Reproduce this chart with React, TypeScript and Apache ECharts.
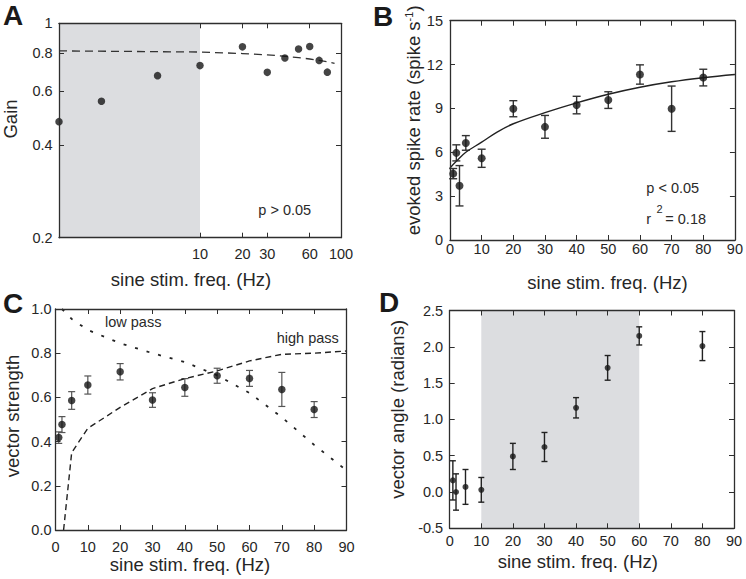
import React, { useEffect, useRef } from 'react';
import * as echarts from 'echarts';

// ---------- Panel A (log-log gain) ----------
const aFreq = [1, 2, 5, 10, 20, 30, 40, 50, 60, 70, 80];
const aGain = [0.478, 0.557, 0.675, 0.728, 0.838, 0.692, 0.771, 0.825, 0.84, 0.757, 0.693];
const aFitFreq = [1, 10, 20, 30, 40, 50, 60, 70, 80, 90];
const aFitGain = [0.813, 0.806, 0.797, 0.789, 0.781, 0.773, 0.765, 0.757, 0.749, 0.74];
const aXTicks = [10, 20, 30, 60];
const aXLabels = [10, 20, 30, 60, 100];
const aYTicks = [0.4, 0.6, 0.8];
const aYLabels = [0.2, 0.4, 0.6, 0.8, 1];
const aShade = [1, 10];

// ---------- Panel B (evoked spike rate) ----------
const bFreq = [1, 2, 3, 5, 10, 20, 30, 40, 50, 60, 70, 80];
const bRate = [4.54, 5.96, 3.71, 6.64, 5.59, 8.98, 7.74, 9.23, 9.57, 11.32, 8.98, 11.11];
const bErr = [0.35, 0.55, 1.38, 0.5, 0.62, 0.55, 0.78, 0.6, 0.57, 0.66, 1.55, 0.57];
const bFitFreq = [0, 2, 5, 10, 15, 20, 30, 40, 50, 60, 70, 80, 90];
const bFitRate = [4.93, 5.38, 6.0, 6.69, 7.4, 7.95, 8.71, 9.38, 9.97, 10.45, 10.82, 11.1, 11.32];

// ---------- Panel C (vector strength) ----------
const cFreq = [1, 2, 5, 10, 20, 30, 40, 50, 60, 70, 80];
const cVS = [0.418, 0.477, 0.586, 0.656, 0.716, 0.588, 0.645, 0.698, 0.686, 0.636, 0.545];
const cErr = [0.026, 0.036, 0.04, 0.041, 0.037, 0.033, 0.04, 0.034, 0.036, 0.077, 0.036];
const highPassFreq = [2.5, 5, 10, 20, 30, 40, 50, 60, 70, 80, 90];
const highPassVS = [0, 0.35, 0.46, 0.555, 0.64, 0.685, 0.72, 0.765, 0.795, 0.8, 0.81];
const lowPassFreq = [2, 5, 10, 20, 30, 40, 50, 60, 70, 80, 90];
const lowPassVS = [1.0, 0.955, 0.905, 0.845, 0.8, 0.76, 0.7, 0.62, 0.51, 0.385, 0.27];

// ---------- Panel D (vector angle) ----------
const dFreq = [1, 2, 5, 10, 20, 30, 40, 50, 60, 80];
const dAngle = [0.16, 0.0, 0.07, 0.03, 0.49, 0.62, 1.16, 1.71, 2.15, 2.01];
const dErr = [0.27, 0.25, 0.24, 0.17, 0.18, 0.2, 0.14, 0.17, 0.125, 0.2];
const dShade = [10, 60];

const FONT = '"Liberation Sans", Arial, Helvetica, sans-serif';
const TXT = '#262626';
const LINE = '#2e2e2e';
const DOT = '#161616';
const NAME_SIZE = 18.5;
const TICK_SIZE = 14.5;

const lg = (v: number) => Math.log10(v);

function axis(gridIndex: number, position: string, opts: any) {
  const main = position === 'bottom' || position === 'left';
  const tick: any = { show: true, inside: true, length: 5, lineStyle: { color: LINE, width: 1 } };
  if (opts.tickValues) tick.customValues = opts.tickValues;
  const label: any = main
    ? { show: true, color: TXT, fontSize: TICK_SIZE, fontFamily: FONT, margin: opts.margin ?? 6, ...(opts.label || {}) }
    : { show: false };
  const ax: any = {
    type: 'value',
    gridIndex,
    position,
    min: opts.min,
    max: opts.max,
    z: 10,
    axisLine: { show: true, onZero: false, lineStyle: { color: LINE, width: 1.3 } },
    axisTick: tick,
    axisLabel: label,
    splitLine: { show: false },
  };
  if (opts.interval !== undefined) ax.interval = opts.interval;
  if (main && opts.name) {
    ax.name = opts.name;
    ax.nameLocation = 'middle';
    ax.nameGap = opts.nameGap;
    ax.nameTextStyle = {
      fontSize: NAME_SIZE,
      color: TXT,
      fontFamily: FONT,
      padding: opts.namePad || [0, 0, 0, 0],
      ...(opts.nameRich ? { rich: opts.nameRich } : {}),
    };
  }
  return ax;
}

function errorBars(capHalf: number, color: string, width: number) {
  return (_params: any, api: any) => {
    const x = api.value(0);
    const lo = api.value(1);
    const hi = api.value(2);
    const a = api.coord([x, lo]);
    const b = api.coord([x, hi]);
    const style = { stroke: color, lineWidth: width, fill: null };
    return {
      type: 'group',
      children: [
        { type: 'line', shape: { x1: a[0], y1: a[1], x2: b[0], y2: b[1] }, style },
        { type: 'line', shape: { x1: a[0] - capHalf, y1: a[1], x2: a[0] + capHalf, y2: a[1] }, style },
        { type: 'line', shape: { x1: b[0] - capHalf, y1: b[1], x2: b[0] + capHalf, y2: b[1] }, style },
      ],
    };
  };
}

function buildOption() {
  const grid = [
    { left: 57.3, top: 23.3, width: 283.7, height: 214.4 },
    { left: 450, top: 20.7, width: 286.5, height: 219.3 },
    { left: 55.5, top: 309, width: 291, height: 221 },
    { left: 449.7, top: 310.5, width: 284.3, height: 217.8 },
  ];

  const freqAxis = { min: 0, max: 90, interval: 10 };
  const xName = 'sine stim. freq. (Hz)';

  const xAxis = [
    axis(0, 'bottom', {
      min: 0, max: 2,
      tickValues: aXTicks.map(lg),
      margin: 8.5,
      label: { customValues: aXLabels.map(lg), formatter: (v: number) => String(Math.round(Math.pow(10, v))) },
      name: xName, nameGap: 32.5, namePad: [0, 18, 0, 0],
    }),
    axis(0, 'top', { min: 0, max: 2, tickValues: aXTicks.map(lg) }),
    axis(1, 'bottom', { ...freqAxis, margin: 1.5, name: xName, nameGap: 32.5, namePad: [0, 0, 0, 30] }),
    axis(1, 'top', { ...freqAxis }),
    axis(2, 'bottom', { ...freqAxis, margin: 9.5, name: xName, nameGap: 23.5, namePad: [0, 22, 0, 0] }),
    axis(2, 'top', { ...freqAxis }),
    axis(3, 'bottom', { ...freqAxis, margin: 5.5, name: xName, nameGap: 23.2, namePad: [0, 28, 0, 0] }),
    axis(3, 'top', { ...freqAxis }),
  ];

  const yAxis = [
    axis(0, 'left', {
      min: lg(0.2), max: 0,
      tickValues: aYTicks.map(lg),
      margin: 6.3,
      label: {
        customValues: aYLabels.map(lg),
        formatter: (v: number) => {
          const x = Math.pow(10, v);
          return x > 0.99 ? '1' : x.toFixed(1);
        },
      },
      name: 'Gain', nameGap: 39, namePad: [0, 0, 0, 23],
    }),
    axis(0, 'right', { min: lg(0.2), max: 0, tickValues: aYTicks.map(lg) }),
    axis(1, 'left', {
      min: 0, max: 15, interval: 3, margin: 7,
      name: 'evoked spike rate (spike s{sup|-1})', nameGap: 23, namePad: [0, 0, 0, 20],
      nameRich: { sup: { fontSize: 11, fontFamily: FONT, color: TXT, verticalAlign: 'top', lineHeight: 12 } },
    }),
    axis(1, 'right', { min: 0, max: 15, interval: 3 }),
    axis(2, 'left', {
      min: 0, max: 1, interval: 0.2, margin: 4,
      label: { formatter: (v: number) => v.toFixed(1) },
      name: 'vector strength', nameGap: 33.5, namePad: [0, 0, 0, 7],
    }),
    axis(2, 'right', { min: 0, max: 1, interval: 0.2 }),
    axis(3, 'left', {
      min: -0.5, max: 2.5, interval: 0.5, margin: 6.5,
      label: { formatter: (v: number) => v.toFixed(1) },
      name: 'vector angle (radians)', nameGap: 43, namePad: [0, 0, 0, 20],
    }),
    axis(3, 'right', { min: -0.5, max: 2.5, interval: 0.5 }),
  ];

  const shadeColor = '#dcdde0';

  const series: any[] = [
    // ---- A ----
    {
      type: 'line', xAxisIndex: 0, yAxisIndex: 0, data: [], z: 1, silent: true,
      markArea: { silent: true, itemStyle: { color: shadeColor }, data: [[{ xAxis: lg(aShade[0]) }, { xAxis: lg(aShade[1]) }]] },
    },
    {
      type: 'line', xAxisIndex: 0, yAxisIndex: 0, z: 3, symbol: 'none',
      data: aFitFreq.map((f, i) => [lg(f), lg(aFitGain[i])]),
      lineStyle: { color: '#333', width: 1.3, type: [8, 5] },
    },
    {
      type: 'scatter', xAxisIndex: 0, yAxisIndex: 0, z: 4, symbolSize: 7.5,
      itemStyle: { color: DOT },
      data: aFreq.map((f, i) => [lg(f), lg(aGain[i])]),
    },
    // ---- B ----
    {
      type: 'line', xAxisIndex: 2, yAxisIndex: 2, z: 3, symbol: 'none', smooth: 0.4,
      data: bFitFreq.map((f, i) => [f, bFitRate[i]]),
      lineStyle: { color: '#222', width: 1.4 },
    },
    {
      type: 'custom', xAxisIndex: 2, yAxisIndex: 2, z: 3,
      renderItem: errorBars(4, '#333', 1.4),
      encode: { x: 0, y: [1, 2] },
      data: bFreq.map((f, i) => [f, bRate[i] - bErr[i], bRate[i] + bErr[i]]),
    },
    {
      type: 'scatter', xAxisIndex: 2, yAxisIndex: 2, z: 4, symbolSize: 8,
      itemStyle: { color: DOT },
      data: bFreq.map((f, i) => [f, bRate[i]]),
    },
    // ---- C ----
    {
      type: 'line', xAxisIndex: 4, yAxisIndex: 4, z: 3, symbol: 'none',
      data: highPassFreq.map((f, i) => [f, highPassVS[i]]),
      lineStyle: { color: '#222', width: 1.4, type: [6, 4] },
    },
    {
      type: 'line', xAxisIndex: 4, yAxisIndex: 4, z: 3, symbol: 'none',
      data: lowPassFreq.map((f, i) => [f, lowPassVS[i]]),
      lineStyle: { color: '#222', width: 1.8, type: [3, 9] },
    },
    {
      type: 'custom', xAxisIndex: 4, yAxisIndex: 4, z: 3,
      renderItem: errorBars(3.5, '#555', 1.2),
      encode: { x: 0, y: [1, 2] },
      data: cFreq.map((f, i) => [f, cVS[i] - cErr[i], cVS[i] + cErr[i]]),
    },
    {
      type: 'scatter', xAxisIndex: 4, yAxisIndex: 4, z: 4, symbolSize: 7.5,
      itemStyle: { color: DOT },
      data: cFreq.map((f, i) => [f, cVS[i]]),
    },
    // ---- D ----
    {
      type: 'line', xAxisIndex: 6, yAxisIndex: 6, data: [], z: 1, silent: true,
      markArea: { silent: true, itemStyle: { color: shadeColor }, data: [[{ xAxis: dShade[0] }, { xAxis: dShade[1] }]] },
    },
    {
      type: 'custom', xAxisIndex: 6, yAxisIndex: 6, z: 3,
      renderItem: errorBars(3, '#222', 1.4),
      encode: { x: 0, y: [1, 2] },
      data: dFreq.map((f, i) => [f, dAngle[i] - dErr[i], dAngle[i] + dErr[i]]),
    },
    {
      type: 'scatter', xAxisIndex: 6, yAxisIndex: 6, z: 4, symbolSize: 6,
      itemStyle: { color: DOT },
      data: dFreq.map((f, i) => [f, dAngle[i]]),
    },
  ];

  const letter = (text: string, x: number, y: number) => ({
    type: 'text', x, y, z: 100,
    style: { text, fontSize: 28, fontWeight: 'bold', fontFamily: FONT, fill: '#1a1a1a', align: 'left', verticalAlign: 'middle' },
  });
  const note = (text: string, x: number, y: number, size = 14.5) => ({
    type: 'text', x, y, z: 100,
    style: { text, fontSize: size, fontFamily: FONT, fill: '#2a2a2a', align: 'left', verticalAlign: 'middle' },
  });

  const graphic = [
    letter('A', 3, 15),
    letter('B', 373, 16),
    letter('C', 3, 303.3),
    letter('D', 379, 302.5),
    note('p > 0.05', 258.3, 209.8),
    note('p < 0.05', 646.3, 187.5),
    note('r', 646.3, 218.8),
    note('2', 656.5, 209, 11),
    note('= 0.18', 665.3, 218.8),
    note('low pass', 105, 321.5),
    note('high pass', 276.7, 338),
  ];

  return { animation: false, grid, xAxis, yAxis, series, graphic };
}

export default function App() {
  const ref = useRef<HTMLDivElement>(null);
  useEffect(() => {
    if (!ref.current) return;
    const chart = echarts.init(ref.current, null, { renderer: 'svg' });
    chart.setOption(buildOption() as any);
    return () => chart.dispose();
  }, []);
  return (
    <div
      ref={ref}
      style={{ position: 'absolute', left: 0, top: 0, width: 746, height: 579, background: '#fff' }}
    />
  );
}
